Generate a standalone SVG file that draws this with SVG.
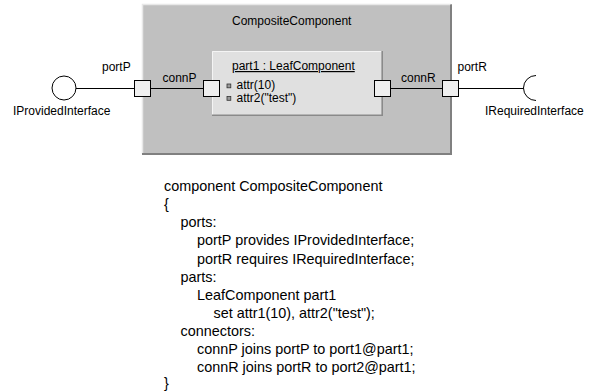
<svg xmlns="http://www.w3.org/2000/svg" width="592" height="391" viewBox="0 0 592 391">
<style>
text{font-family:"Liberation Sans",Arial,Helvetica,sans-serif;fill:#000}
.lbl{font-size:12px}
.code{font-size:14.4px}
.port{fill:#efefef;stroke:#000;stroke-width:1}
.wire{stroke:#000;stroke-width:1;fill:none}
.bullet{fill:#9a9a9a;stroke:#333;stroke-width:0.8}
</style>
<rect width="592" height="391" fill="#fff"/>
<g id="CompositeComponent">
  <rect x="142" y="4" width="310" height="151" fill="#c0c0c0"/>
  <path d="M142.5 154V4.5H451" stroke="#e8e8e8" stroke-width="1.5" fill="none"/>
  <path d="M142 154H451V4.5" stroke="#808080" stroke-width="2" fill="none"/>
  <text class="lbl" x="232" y="25">CompositeComponent</text>
</g>
<g id="part1">
  <rect x="212" y="51" width="171" height="65" fill="#e0e0e0"/>
  <path d="M212.5 115V51.5H382" stroke="#f4f4f4" stroke-width="1" fill="none"/>
  <path d="M212 115.2H382.2V51" stroke="#8a8a8a" stroke-width="1.6" fill="none"/>
  <text class="lbl" x="232" y="70" text-decoration="underline">part1 : LeafComponent</text>
  <rect class="bullet" x="227" y="84" width="3.8" height="3.8"/>
  <text class="lbl" x="236.5" y="88.7">attr(10)</text>
  <rect class="bullet" x="227" y="96.5" width="3.8" height="3.8"/>
  <text class="lbl" x="236.5" y="102.2">attr2("test")</text>
</g>
<g id="IProvidedInterface">
  <circle cx="64" cy="88" r="12" fill="#fff" stroke="#000" stroke-width="1"/>
  <text class="lbl" x="13" y="115">IProvidedInterface</text>
</g>
<g id="IRequiredInterface">
  <path d="M536 75.5A12.5 12.5 0 0 0 536 100.5" fill="none" stroke="#000" stroke-width="1"/>
  <text class="lbl" x="485" y="115">IRequiredInterface</text>
</g>
<g id="portP">
  <rect class="port" x="134.5" y="80.5" width="16" height="16"/>
  <text class="lbl" x="102" y="71">portP</text>
</g>
<g id="portR">
  <rect class="port" x="442.5" y="80.5" width="16" height="16"/>
  <text class="lbl" x="457.5" y="71">portR</text>
</g>
<g id="port1">
  <rect class="port" x="203.5" y="80.5" width="16" height="16"/>
</g>
<g id="port2">
  <rect class="port" x="374.5" y="80.5" width="16" height="16"/>
</g>
<g id="connectors">
  <line class="wire" x1="76" y1="88.5" x2="134.5" y2="88.5"/>
  <line class="wire" x1="150.5" y1="88.5" x2="203.5" y2="88.5"/>
  <text class="lbl" x="162.5" y="82">connP</text>
  <line class="wire" x1="390.5" y1="88.5" x2="442.5" y2="88.5"/>
  <text class="lbl" x="401" y="82">connR</text>
  <line class="wire" x1="458.5" y1="88.5" x2="523.5" y2="88.5"/>
</g>
<g id="code">
  <text class="code" x="164" y="191">component CompositeComponent</text>
  <text class="code" x="164" y="209">{</text>
  <text class="code" x="180.5" y="227">ports:</text>
  <text class="code" x="197" y="245">portP provides IProvidedInterface;</text>
  <text class="code" x="197" y="263.5">portR requires IRequiredInterface;</text>
  <text class="code" x="180.5" y="281.5">parts:</text>
  <text class="code" x="197" y="299.5">LeafComponent part1</text>
  <text class="code" x="213.5" y="317.5">set attr1(10), attr2("test");</text>
  <text class="code" x="180.5" y="336">connectors:</text>
  <text class="code" x="197" y="354">connP joins portP to port1@part1;</text>
  <text class="code" x="197" y="372">connR joins portR to port2@part1;</text>
  <text class="code" x="164" y="388">}</text>
</g>
</svg>
